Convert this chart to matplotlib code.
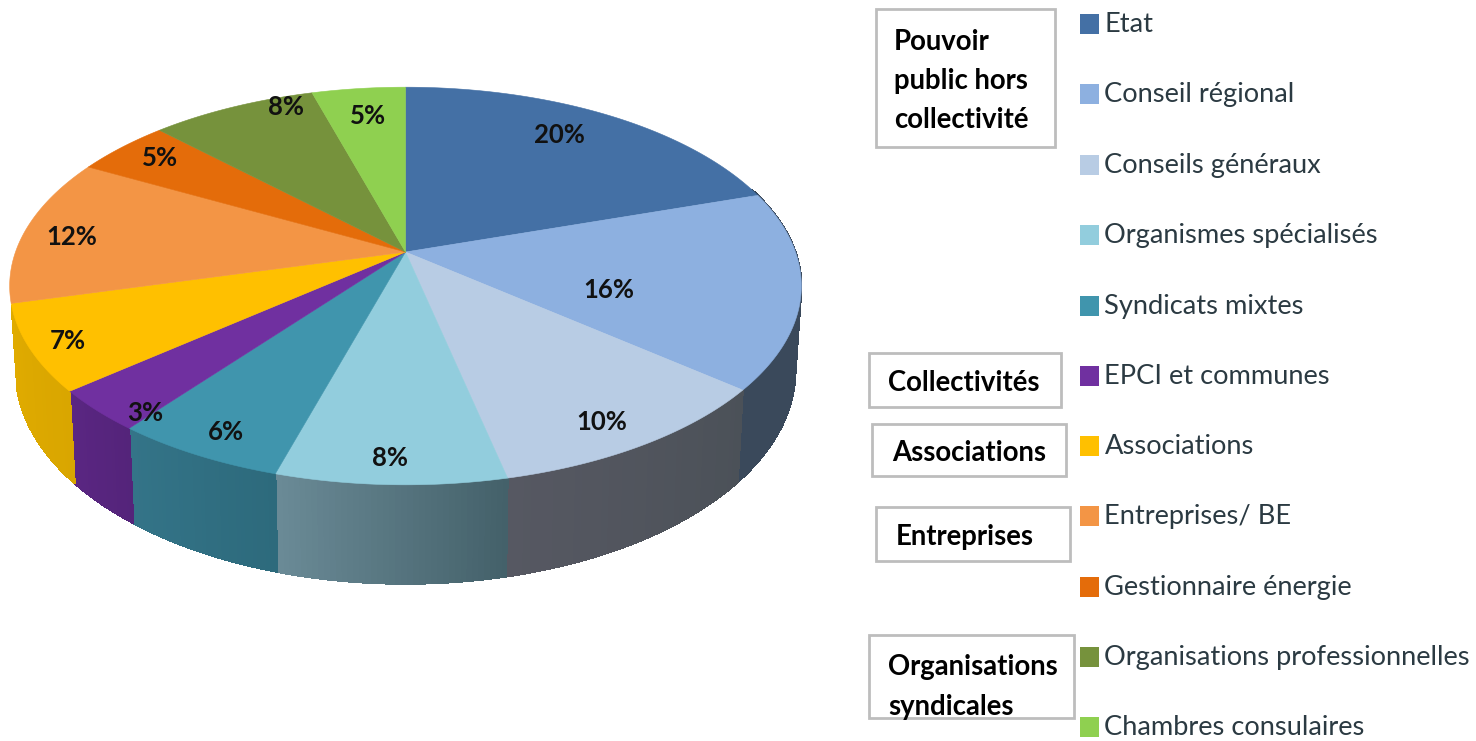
"""Perspective 3D pie of the actors, with legend and group boxes."""

from __future__ import annotations

import matplotlib.pyplot as plt
import numpy as np
from matplotlib.colors import to_rgb
from matplotlib.patches import Rectangle

categories = [
    "Etat",
    "Conseil régional",
    "Conseils généraux",
    "Organismes spécialisés",
    "Syndicats mixtes",
    "EPCI et communes",
    "Associations",
    "Entreprises/ BE",
    "Gestionnaire énergie",
    "Organisations professionnelles",
    "Chambres consulaires",
]
# slice sizes as measured on the picture, the printed labels are rounded
shares = [20.0, 16.0, 10.5, 8.0, 6.0, 3.4, 7.0, 12.0, 4.6, 8.0, 4.5]
share_labels = ["20%", "16%", "10%", "8%", "6%", "3%", "7%", "12%", "5%", "8%", "5%"]
group_labels = [
    "Pouvoir\npublic hors\ncollectivité",
    "Collectivités",
    "Associations",
    "Entreprises",
    "Organisations\nsyndicales",
]

TOP_COLORS = [
    "#4470a5", "#8db0e0", "#b8cce4", "#92cddd", "#4095ad", "#7030a0",
    "#ffc000", "#f39545", "#e46c0a", "#76923c", "#8fd050",
]
# side wall colours, at the start and at the end of each slice
SIDE_COLORS = [
    ("#33404f", "#33404f"), ("#3b4a5c", "#3a495b"), ("#4b5158", "#565862"),
    ("#44616a", "#6a8a96"), ("#2d6a7c", "#347488"), ("#54247a", "#5a2682"),
    ("#d9a600", "#e0ab00"), ("#c0752f", "#c0752f"), ("#b05408", "#b05408"),
    ("#5a702e", "#5a702e"), ("#70a33e", "#70a33e"),
]

CENTER = (405.5, 252.0)
RX, RY, KP, DEPTH = 390.0, 193.0, 0.171, 82.0


def project(theta: np.ndarray, z: float = 0.0) -> tuple[np.ndarray, np.ndarray]:
    """Map a clockwise angle from 12 o'clock on the disc to picture coordinates."""
    u, v = np.sin(theta), np.cos(theta)
    w = 1 + KP * v
    x = CENTER[0] + RX * u * (1 - 0.015 * z) / w
    y = CENTER[1] - (RY * v - DEPTH * z) / w
    return x, y


def side_hidden(theta: float) -> bool:
    # the wall only shows on the front, a bit further round on the right
    limit = 0.35 if np.sin(theta) > 0 else -0.27
    return np.cos(theta) > limit


def draw_pie(ax: plt.Axes) -> None:
    edges = 2 * np.pi * np.concatenate([[0], np.cumsum(shares)]) / np.sum(shares)
    for i, color in enumerate(TOP_COLORS):
        start_rgb = np.array(to_rgb(SIDE_COLORS[i][0]))
        end_rgb = np.array(to_rgb(SIDE_COLORS[i][1]))
        steps = np.linspace(edges[i], edges[i + 1], 40)
        for j in range(len(steps) - 1):
            pair = steps[j : j + 2]
            if side_hidden(pair.mean()):
                continue
            x0, y0 = project(pair, 0.0)
            x1, y1 = project(pair, 1.0)
            shade = start_rgb + (end_rgb - start_rgb) * j / (len(steps) - 2)
            ax.fill(
                [x0[0], x0[1], x1[1], x1[0]], [y0[0], y0[1], y1[1], y1[0]],
                color=shade, linewidth=0.8, antialiased=False, zorder=2,
            )
        x, y = project(np.linspace(edges[i], edges[i + 1], 120))
        ax.fill(
            np.r_[CENTER[0], x], np.r_[CENTER[1], y],
            color=color, linewidth=0.4, zorder=3,
        )


def main() -> None:
    plt.rcParams["font.family"] = ["Lato", "DejaVu Sans"]

    fig = plt.figure(figsize=(14.76, 7.41), dpi=100)
    ax = fig.add_axes([0, 0, 1, 1])
    ax.set_xlim(0, 1476)
    ax.set_ylim(741, 0)
    ax.axis("off")

    draw_pie(ax)

    label_xy = [
        (559, 135), (609, 290), (602, 422), (390, 458), (226, 432), (145, 413),
        (68, 341), (72, 237), (160, 158), (286, 107), (368, 116),
    ]
    for text, (x, y) in zip(share_labels, label_xy):
        ax.text(x, y, text, ha="center", va="center", fontsize=18.5, color="#111111",
                fontweight="bold", zorder=5)

    # legend column
    row_y = [24, 94, 165, 235, 306, 376, 446, 516, 587, 657, 727]
    for name, color, y in zip(categories, TOP_COLORS, row_y):
        ax.add_patch(Rectangle((1080, y - 10), 19, 20, facecolor=color, edgecolor="none"))
        ax.text(1104.5, y + 0.5, name, ha="left", va="center", fontsize=19.6, color="#2b3a42")

    # group boxes on the left of the legend
    boxes = [
        (876, 9, 179, 138, 894),
        (869, 353, 192, 54, 888),
        (872, 424, 194, 52, 892),
        (876, 507, 194, 54, 896),
        (869, 635, 205, 83, 888),
    ]
    text_y = [81, 383, 453, 537, 687]
    for label, (x, y, w, h, tx), ty in zip(group_labels, boxes, text_y):
        ax.add_patch(Rectangle((x, y), w, h, facecolor="white", edgecolor="#bdbdbd", linewidth=2))
        ax.text(tx, ty, label, ha="left", va="center", fontsize=19.8, color="black",
                fontweight="bold", linespacing=1.62, zorder=5)

    fig.savefig("out.png", dpi=100)


if __name__ == "__main__":
    main()
